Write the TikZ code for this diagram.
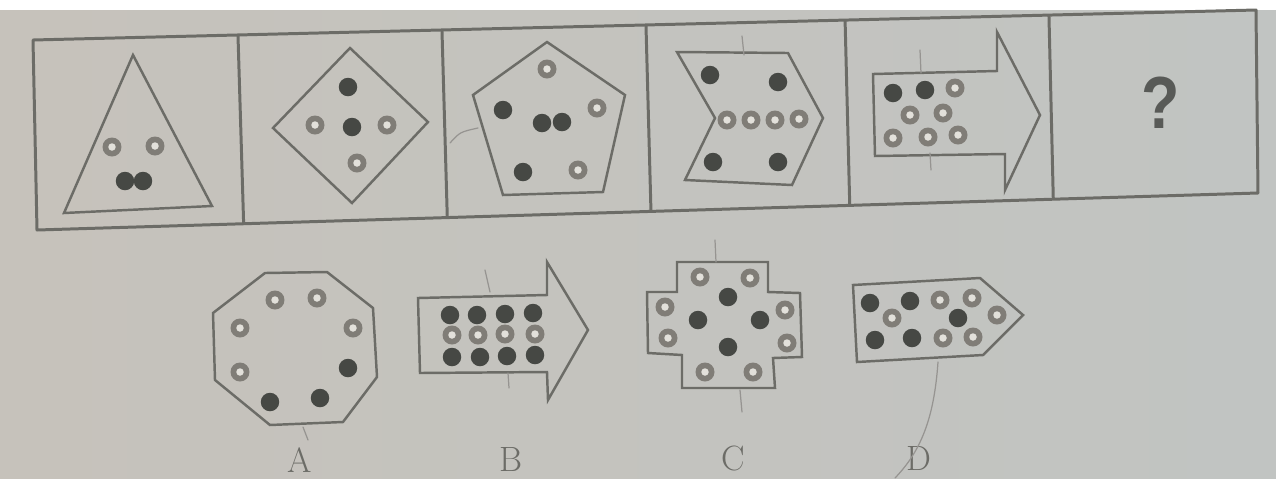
\documentclass[tikz,border=0pt]{standalone}
\usepackage{fontspec}
\newfontfamily\qfont{Liberation Sans}
\usetikzlibrary{calc}
\definecolor{paperL}{RGB}{198,194,187}
\definecolor{paperR}{RGB}{193,196,194}
\definecolor{ink}{RGB}{108,108,103}
\definecolor{dotc}{RGB}{70,72,68}
\definecolor{ringc}{RGB}{128,125,119}
\definecolor{holec}{RGB}{226,224,218}
\definecolor{pencil}{RGB}{150,148,145}
\newcommand\hd[2]{\fill[ringc] (#1,#2) circle (0.19cm); \fill[holec] (#1,#2) circle (0.075cm);}
\newcommand\fd[2]{\fill[dotc] (#1,#2) circle (0.185cm);}
\begin{document}
\begin{tikzpicture}[x=0.02cm,y=-0.02cm,
  frame/.style={draw=ink,line width=1.7pt,line join=round},
  shp/.style={draw=ink,line width=1.4pt,line join=miter},
  pen/.style={draw=pencil,line width=0.7pt,line cap=round},
  lbl/.style={text=ink,inner sep=0pt,font=\fontsize{20}{20}\selectfont,anchor=north}]
\useasboundingbox (0,0) rectangle (1276,478);
\shade[left color=paperL,right color=paperR] (0,0) rectangle (1276,478);
\fill[white] (0,0) rectangle (1276,10);

% grid
\coordinate (TL) at (33,40);
\coordinate (TR) at (1256,10);
\coordinate (BR) at (1258,193);
\coordinate (BL) at (37,230);
\draw[frame] (TL) -- (TR) -- (BR) -- (BL) -- cycle;
\foreach \t in {0.1676,0.3344,0.5012,0.664,0.8307}
  \draw[frame] ($(TL)!\t!(TR)$) -- ($(BL)!\t!(BR)+(2,0)$);

% cell 1: triangle
\draw[shp] (133,55) -- (212,206) -- (64,213) -- cycle;
\hd{112}{147}\hd{155}{146}\fd{125}{181}\fd{143}{181}

% cell 2: diamond
\draw[shp] (350,48) -- (428,122) -- (352,203) -- (273,128) -- cycle;
\fd{348}{87}\hd{315}{125}\fd{352}{127}\hd{387}{125}\hd{357}{163}

% cell 3: pentagon
\draw[shp] (547,42) -- (625,95) -- (603,192) -- (503,195) -- (473,95) -- cycle;
\hd{547}{69}\fd{503}{110}\fd{542}{123}\fd{562}{122}\hd{597}{108}\fd{523}{172}\hd{578}{170}

% cell 4: chevron
\draw[shp] (677,52) -- (788,53) -- (823,118) -- (792,185) -- (685,180) -- (715,118) -- cycle;
\fd{710}{75}\fd{778}{82}\hd{727}{120}\hd{751}{120}\hd{775}{120}\hd{799}{119}\fd{713}{162}\fd{778}{162}

% cell 5: arrow
\draw[shp] (873,74) -- (997,71) -- (997,32) -- (1040,115) -- (1005,190) -- (1005,154) -- (875,156) -- cycle;
\fd{893}{93}\fd{925}{90}\hd{955}{88}\hd{910}{115}\hd{943}{113}\hd{893}{138}\hd{928}{137}\hd{958}{135}

% cell 6
\node[text=dotc!90!white,inner sep=0pt,font=\qfont\bfseries\fontsize{42}{42}\selectfont,xscale=0.85] (q) at (1161,103) {?};

% option A: octagon
\draw[shp] (265,273) -- (327,272) -- (373,308) -- (377,377) -- (343,422) -- (270,425) -- (215,380) -- (213,313) -- cycle;
\hd{275}{300}\hd{317}{298}\hd{240}{328}\hd{353}{328}\hd{240}{372}\fd{348}{368}\fd{270}{402}\fd{320}{398}

% option B: arrow
\draw[shp] (418,298) -- (547,295) -- (547,262) -- (588,330) -- (548,400) -- (547,372) -- (420,373) -- cycle;
\fd{450}{315}\fd{477}{315}\fd{505}{314}\fd{533}{313}
\hd{452}{335}\hd{478}{335}\hd{505}{334}\hd{535}{334}
\fd{452}{357}\fd{480}{357}\fd{507}{356}\fd{535}{355}

% option C: cross
\draw[shp] (677,262) -- (768,262) -- (768,292) -- (800,293) -- (802,357) -- (773,358) -- (775,388) -- (682,388) -- (682,355) -- (648,353) -- (647,292) -- (677,292) -- cycle;
\hd{700}{277}\hd{750}{278}\fd{728}{297}\hd{665}{307}\hd{785}{310}\fd{698}{320}\fd{760}{320}\hd{668}{338}\hd{787}{343}\fd{728}{347}\hd{705}{372}\hd{753}{372}

% option D: pentagon arrow
\draw[shp] (853,285) -- (980,278) -- (1023,315) -- (983,355) -- (857,362) -- cycle;
\fd{870}{303}\fd{910}{301}\hd{940}{300}\hd{972}{298}\hd{892}{318}\fd{958}{318}\hd{997}{315}\fd{875}{340}\fd{912}{338}\hd{943}{338}\hd{973}{337}

% labels
\node[lbl] (la) at (300,447) {A};
\node[lbl] (lb) at (511,447) {B};
\node[lbl] (lc) at (733,446) {C};
\node[lbl] (ld) at (919,446) {D};

% pencil marks
\draw[pen] (938,362) .. controls (934,420) and (920,452) .. (895,478);
\draw[pen] (715,240) -- (716,262);
\draw[pen] (740,390) -- (742,412);
\draw[pen] (742,36) -- (744,55);
\draw[pen] (920,50) -- (921,73);
\draw[pen] (930,153) -- (931,170);
\draw[pen] (450,143) .. controls (460,132) .. (478,128);
\draw[pen] (303,427) -- (308,440);
\draw[pen] (485,270) -- (490,292);
\draw[pen] (508,373) -- (509,388);
\end{tikzpicture}
\end{document}
